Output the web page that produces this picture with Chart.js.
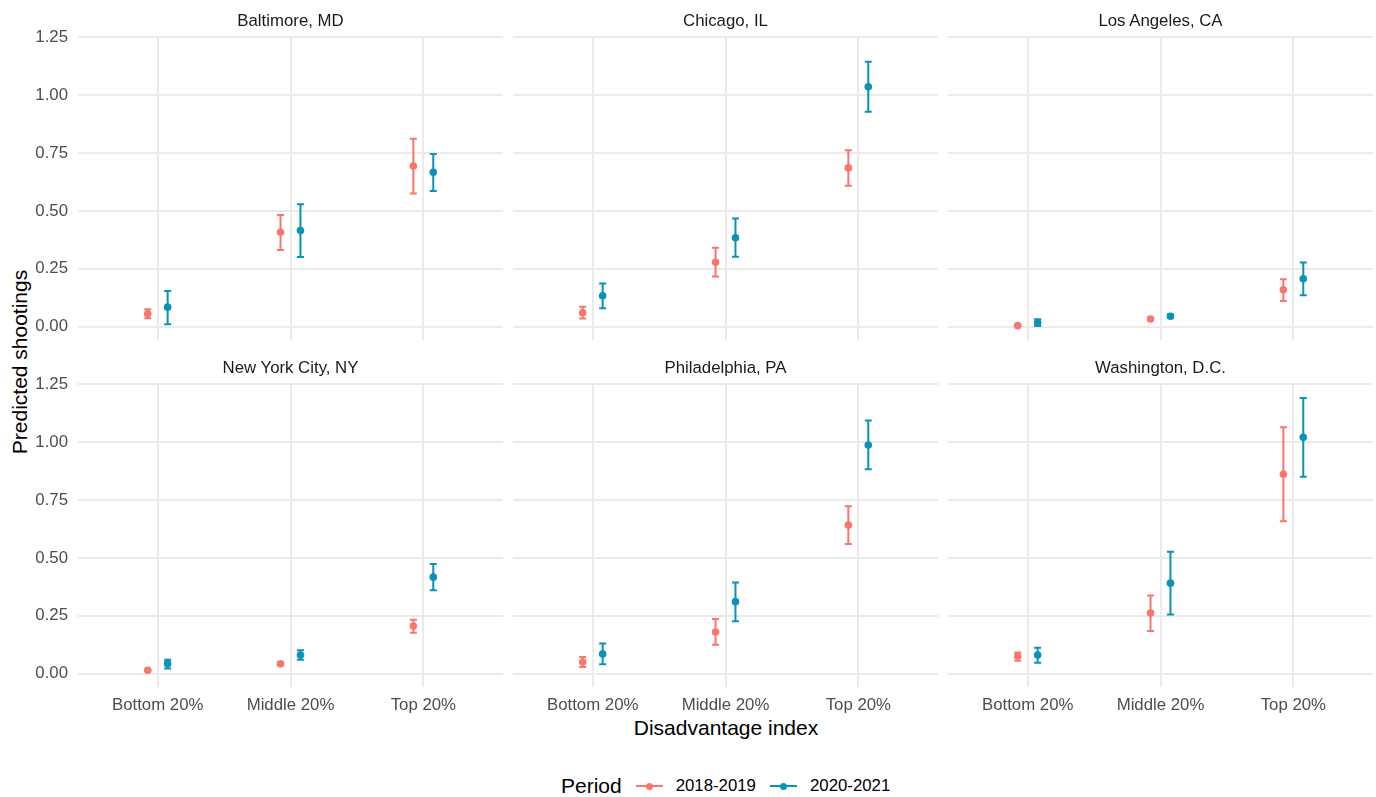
<!DOCTYPE html>
<html>
<head>
<meta charset="utf-8">
<script src="https://cdn.jsdelivr.net/npm/chart.js@4"></script>
<style>
  html, body { margin: 0; padding: 0; background: #fff; }
  body { width: 1376px; height: 797px; position: relative; overflow: hidden; font-family: "Liberation Sans", Arial, sans-serif; }
  canvas.panel { position: absolute; }
  .strip { position: absolute; width: 425px; text-align: center; font-size: 16.8px; color: #1a1a1a; line-height: 20px; }
  .ytitle { position: absolute; left: 20px; top: 362px; font-size: 21px; transform: translate(-50%, -50%) rotate(-90deg); white-space: nowrap; line-height: 24px; }
  .xtitle { position: absolute; left: 726px; top: 728px; font-size: 21px; transform: translate(-50%, -50%); white-space: nowrap; line-height: 24px; }
  .legend { position: absolute; left: 561px; top: 774px; height: 24px; display: flex; align-items: center; white-space: nowrap; }
  .legend .title { font-size: 21px; margin-right: 14px; }
  .legend .key { position: relative; width: 27px; height: 24px; margin-right: 13px; }
  .legend .key .ln { position: absolute; left: 0; right: 0; top: 11px; height: 2px; }
  .legend .key .pt { position: absolute; left: 10px; top: 8.5px; width: 7px; height: 7px; border-radius: 50%; }
  .legend .lab { font-size: 16.8px; margin-right: 14px; }
</style>
</head>
<body>
<div class="ytitle">Predicted shootings</div>
<div class="xtitle">Disadvantage index</div>
<div class="legend" id="legend"></div>

<script>
// ---- data ----
const cities = ['Baltimore, MD', 'Chicago, IL', 'Los Angeles, CA', 'New York City, NY', 'Philadelphia, PA', 'Washington, D.C.'];
const groups = ['Bottom 20%', 'Middle 20%', 'Top 20%'];
const periods = ['2018-2019', '2020-2021'];
const yTicks = [0, 0.25, 0.5, 0.75, 1, 1.25];

// one row per city: [bottom, middle, top]
const est2018 = [[0.055, 0.408, 0.694], [0.060, 0.278, 0.686], [0.004, 0.033, 0.159], [0.014, 0.042, 0.206], [0.050, 0.180, 0.642], [0.075, 0.262, 0.862]];
const lo2018  = [[0.036, 0.331, 0.575], [0.035, 0.216, 0.609], [0.002, 0.028, 0.111], [0.010, 0.035, 0.177], [0.029, 0.125, 0.560], [0.055, 0.184, 0.659]];
const hi2018  = [[0.075, 0.482, 0.812], [0.086, 0.341, 0.762], [0.007, 0.038, 0.205], [0.018, 0.050, 0.233], [0.072, 0.236, 0.724], [0.091, 0.338, 1.065]];

const est2020 = [[0.084, 0.415, 0.667], [0.133, 0.384, 1.037], [0.017, 0.045, 0.207], [0.043, 0.080, 0.417], [0.085, 0.311, 0.988], [0.080, 0.391, 1.022]];
const lo2020  = [[0.010, 0.301, 0.586], [0.079, 0.302, 0.929], [0.003, 0.038, 0.136], [0.022, 0.060, 0.360], [0.040, 0.226, 0.883], [0.047, 0.255, 0.851]];
const hi2020  = [[0.154, 0.529, 0.746], [0.186, 0.467, 1.145], [0.032, 0.052, 0.277], [0.060, 0.101, 0.474], [0.130, 0.394, 1.094], [0.112, 0.527, 1.192]];

const colors = ['#F8766D', '#0A93B8'];

// ---- layout ----
const panelLeft = [78, 513, 948];
const panelTop = [37, 384];
const panelW = 425, panelH = 303;
const PAD = 14;
const yAxisW = 78, xAxisH = 30;
const dodge = 0.075;
const gridColor = '#EBEBEB';
const tickFont = { family: '"Liberation Sans", Arial, sans-serif', size: 16.8 };

// error bar plugin: vertical line + caps, drawn under the points
const errorBars = {
    id: 'errorBars',
    beforeDatasetsDraw(chart) {
        const ctx = chart.ctx;
        const xs = chart.scales.x, ys = chart.scales.y;
        ctx.save();
        chart.data.datasets.forEach(ds => {
            ctx.strokeStyle = ds.backgroundColor;
            ctx.lineWidth = 2;
            ds.data.forEach(p => {
                const x = xs.getPixelForValue(p.x);
                const y1 = ys.getPixelForValue(p.lo);
                const y2 = ys.getPixelForValue(p.hi);
                ctx.beginPath();
                ctx.moveTo(x, y1); ctx.lineTo(x, y2);
                ctx.moveTo(x - 3.5, y1); ctx.lineTo(x + 3.5, y1);
                ctx.moveTo(x - 3.5, y2); ctx.lineTo(x + 3.5, y2);
                ctx.stroke();
            });
        });
        ctx.restore();
    }
};

function buildPanel(idx) {
    const col = idx % 3, row = Math.floor(idx / 3);
    const showY = col === 0, showX = row === 1;
    const aw = showY ? yAxisW : 0;
    const ah = showX ? xAxisH : 0;

    const cv = document.createElement('canvas');
    cv.className = 'panel';
    const w = panelW + aw + 2 * PAD, h = panelH + ah + 2 * PAD;
    cv.width = w; cv.height = h;
    cv.style.left = (panelLeft[col] - aw - PAD) + 'px';
    cv.style.top = (panelTop[row] - PAD) + 'px';
    cv.style.width = w + 'px'; cv.style.height = h + 'px';
    document.body.appendChild(cv);

    const strip = document.createElement('div');
    strip.className = 'strip';
    strip.textContent = cities[idx];
    strip.style.left = panelLeft[col] + 'px';
    strip.style.top = (row === 0 ? 11 : 358) + 'px';
    document.body.appendChild(strip);

    const series = [[est2018, lo2018, hi2018], [est2020, lo2020, hi2020]];
    const datasets = series.map(([est, lo, hi], s) => ({
        label: periods[s],
        data: groups.map((g, i) => ({
            x: i + 1 + (s === 0 ? -dodge : dodge),
            y: est[idx][i], lo: lo[idx][i], hi: hi[idx][i]
        })),
        backgroundColor: colors[s],
        borderWidth: 0,
        pointRadius: 3.8,
        pointHoverRadius: 3.8
    }));

    new Chart(cv, {
        type: 'scatter',
        data: { datasets },
        plugins: [errorBars],
        options: {
            responsive: false,
            animation: false,
            events: [],
            layout: { padding: PAD },
            plugins: { legend: { display: false }, tooltip: { enabled: false } },
            scales: {
                x: {
                    type: 'linear', min: 0.4, max: 3.6,
                    border: { display: false },
                    grid: { color: gridColor, lineWidth: 2, drawTicks: false },
                    afterBuildTicks: sc => { sc.ticks = groups.map((g, i) => ({ value: i + 1 })); },
                    ticks: {
                        display: showX, padding: 8, maxRotation: 0, autoSkip: false,
                        color: '#4D4D4D', font: tickFont,
                        callback: v => groups[v - 1]
                    },
                    afterFit: sc => {
                        sc.height = ah;
                        sc.paddingLeft = 0; sc.paddingRight = 0; sc.paddingTop = 0; sc.paddingBottom = 0;
                    }
                },
                y: {
                    type: 'linear', min: -0.058, max: 1.252,
                    border: { display: false },
                    grid: { color: gridColor, lineWidth: 2, drawTicks: false },
                    afterBuildTicks: sc => { sc.ticks = yTicks.map(v => ({ value: v })); },
                    ticks: {
                        display: showY, padding: 10,
                        color: '#4D4D4D', font: tickFont,
                        callback: v => v.toFixed(2)
                    },
                    afterFit: sc => {
                        sc.width = aw;
                        sc.paddingLeft = 0; sc.paddingRight = 0; sc.paddingTop = 0; sc.paddingBottom = 0;
                    }
                }
            }
        }
    });
}

cities.forEach((c, i) => buildPanel(i));

// legend (keys only, no data)
const legend = document.getElementById('legend');
legend.innerHTML = '<span class="title">Period</span>' + periods.map((p, i) =>
    `<span class="key"><span class="ln" style="background:${colors[i]}"></span><span class="pt" style="background:${colors[i]}"></span></span><span class="lab">${p}</span>`
).join('');
</script>
</body>
</html>
